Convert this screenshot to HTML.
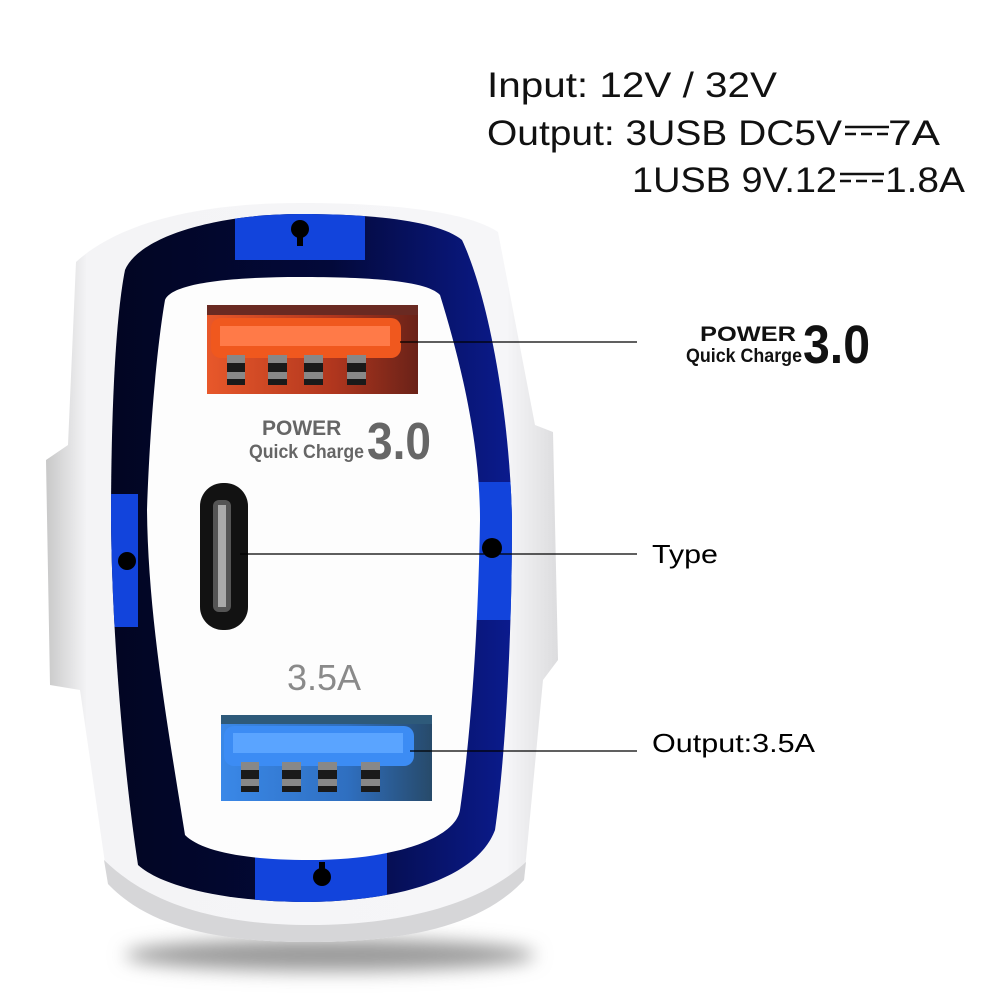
<!DOCTYPE html>
<html><head><meta charset="utf-8"><style>
html,body{margin:0;padding:0;background:#fff;width:1000px;height:1000px;overflow:hidden}
svg{display:block}
</style></head><body>
<svg width="1000" height="1000" viewBox="0 0 1000 1000" xmlns="http://www.w3.org/2000/svg">
<defs>
  <filter id="blur" x="-50%" y="-200%" width="200%" height="500%"><feGaussianBlur stdDeviation="9"/></filter>
  <linearGradient id="ring" x1="0" y1="0" x2="1" y2="0">
    <stop offset="0" stop-color="#020522"/><stop offset="0.55" stop-color="#03093a"/><stop offset="1" stop-color="#0b1b8e"/>
  </linearGradient>
  <linearGradient id="body" x1="0" y1="0" x2="1" y2="0">
    <stop offset="0" stop-color="#c8c8c8"/><stop offset="0.08" stop-color="#f4f4f6"/><stop offset="0.9" stop-color="#f6f6f8"/><stop offset="1" stop-color="#dcdcde"/>
  </linearGradient>
  <linearGradient id="obg" x1="0" y1="0" x2="1" y2="0">
    <stop offset="0" stop-color="#e8582a"/><stop offset="0.6" stop-color="#b0361e"/><stop offset="1" stop-color="#6a2218"/>
  </linearGradient>
  <linearGradient id="bbg" x1="0" y1="0" x2="1" y2="0">
    <stop offset="0" stop-color="#3a88e8"/><stop offset="0.6" stop-color="#2f6fc0"/><stop offset="1" stop-color="#274a6a"/>
  </linearGradient>
  <clipPath id="ringclip">
    <path d="M300,214 C380,214 440,222 462,240 C490,300 510,420 512,520 C512,640 505,760 495,830 C480,870 420,900 310,902 C220,902 160,885 138,865 C125,780 112,640 111,520 C111,420 115,320 125,270 C140,235 220,214 300,214Z"/>
  </clipPath>
</defs>

<ellipse cx="330" cy="955" rx="205" ry="16" fill="#9a9a9a" filter="url(#blur)"/>

<path d="M300,203 C400,203 470,213 498,232 L535,425 L553,432 L558,660 L543,680 L524,880 C480,928 400,942 310,942 C220,942 150,928 108,884 L80,690 L50,685 L46,460 L68,445 L76,262 C120,222 200,203 300,203 Z" fill="url(#body)"/>
<path d="M310,942 C220,942 150,928 108,884 L104,860 C150,905 220,925 310,925 C400,925 480,905 526,862 L524,880 C480,928 400,942 310,942 Z" fill="#d6d6d8"/>

<path d="M300,214 C380,214 440,222 462,240 C490,300 510,420 512,520 C512,640 505,760 495,830 C480,870 420,900 310,902 C220,902 160,885 138,865 C125,780 112,640 111,520 C111,420 115,320 125,270 C140,235 220,214 300,214Z" fill="url(#ring)"/>
<g clip-path="url(#ringclip)" fill="#1244dc">
  <rect x="235" y="205" width="130" height="55"/>
  <rect x="255" y="850" width="132" height="60"/>
  <rect x="105" y="494" width="33" height="133"/>
  <rect x="474" y="482" width="45" height="138"/>
</g>
<path d="M300,277 C380,277 428,282 440,295 C460,360 480,440 480,520 C478,640 470,740 460,810 C455,840 390,860 310,860 C240,860 200,850 185,835 C170,740 148,620 147,510 C150,420 158,340 165,300 C172,283 230,277 300,277Z" fill="#fdfdfd"/>

<circle cx="300" cy="229" r="9" fill="#000"/><rect x="297" y="232" width="6" height="14" fill="#000"/>
<circle cx="127" cy="561" r="9" fill="#000"/>
<circle cx="492" cy="548" r="10" fill="#000"/>
<circle cx="322" cy="877" r="9" fill="#000"/><rect x="319" y="862" width="6" height="12" fill="#000"/>

<rect x="207" y="305" width="211" height="89" fill="url(#obg)"/>
<rect x="207" y="305" width="211" height="10" fill="#6a2a22"/>
<rect x="211" y="318" width="190" height="40" rx="10" fill="#f0581e"/>
<rect x="220" y="326" width="170" height="20" fill="#ff7a48"/>
<g fill="#1a1a1a">
  <rect x="227" y="355" width="18" height="30"/><rect x="268" y="355" width="19" height="30"/><rect x="304" y="355" width="19" height="30"/><rect x="347" y="355" width="19" height="30"/>
</g>
<g fill="#888">
  <rect x="227" y="355" width="18" height="8"/><rect x="268" y="355" width="19" height="8"/><rect x="304" y="355" width="19" height="8"/><rect x="347" y="355" width="19" height="8"/>
  <rect x="227" y="372" width="18" height="7"/><rect x="268" y="372" width="19" height="7"/><rect x="304" y="372" width="19" height="7"/><rect x="347" y="372" width="19" height="7"/>
</g>

<rect x="221" y="715" width="211" height="86" fill="url(#bbg)"/>
<rect x="221" y="715" width="211" height="9" fill="#2e5a7a"/>
<rect x="224" y="726" width="190" height="40" rx="10" fill="#3c8cf4"/>
<rect x="233" y="733" width="170" height="20" fill="#5aa4ff"/>
<g fill="#1a1a1a">
  <rect x="241" y="762" width="18" height="30"/><rect x="282" y="762" width="19" height="30"/><rect x="318" y="762" width="19" height="30"/><rect x="361" y="762" width="19" height="30"/>
</g>
<g fill="#888">
  <rect x="241" y="762" width="18" height="8"/><rect x="282" y="762" width="19" height="8"/><rect x="318" y="762" width="19" height="8"/><rect x="361" y="762" width="19" height="8"/>
  <rect x="241" y="779" width="18" height="7"/><rect x="282" y="779" width="19" height="7"/><rect x="318" y="779" width="19" height="7"/><rect x="361" y="779" width="19" height="7"/>
</g>

<rect x="200" y="483" width="48" height="147" rx="23" fill="#121212"/>
<rect x="213" y="500" width="18" height="112" rx="6" fill="#555"/>
<rect x="218" y="505" width="8" height="102" fill="#aaa"/>

<g font-family="Liberation Sans, sans-serif" font-weight="bold" fill="#666">
  <text x="262" y="435" font-size="21">POWER</text>
  <text x="249" y="458" font-size="19" textLength="115" lengthAdjust="spacingAndGlyphs">Quick Charge</text>
  <text x="367" y="459" font-size="52" textLength="64" lengthAdjust="spacingAndGlyphs">3.0</text>
</g>
<text x="287" y="690" font-family="Liberation Sans, sans-serif" font-size="36" fill="#8a8a8a">3.5A</text>

<g stroke="#000" stroke-width="1.2">
  <line x1="400" y1="342" x2="637" y2="342"/>
  <line x1="240" y1="554" x2="637" y2="554"/>
  <line x1="410" y1="751" x2="637" y2="751"/>
</g>

<g font-family="Liberation Sans, sans-serif" font-weight="bold" fill="#111">
  <text x="700" y="341" font-size="21" textLength="96" lengthAdjust="spacingAndGlyphs">POWER</text>
  <text x="686" y="362" font-size="19" textLength="116" lengthAdjust="spacingAndGlyphs">Quick Charge</text>
  <text x="803" y="363" font-size="54" textLength="67" lengthAdjust="spacingAndGlyphs">3.0</text>
</g>
<g font-family="Liberation Sans, sans-serif" font-size="26" fill="#000">
  <text x="652" y="563" textLength="66" lengthAdjust="spacingAndGlyphs">Type</text>
  <text x="652" y="752" textLength="163" lengthAdjust="spacingAndGlyphs">Output:3.5A</text>
</g>

<g font-family="Liberation Sans, sans-serif" font-size="35" fill="#111">
  <text x="487" y="97" textLength="290" lengthAdjust="spacingAndGlyphs">Input: 12V / 32V</text>
  <text x="487" y="145" textLength="355" lengthAdjust="spacingAndGlyphs">Output: 3USB DC5V</text>
  <text x="888" y="145" textLength="52" lengthAdjust="spacingAndGlyphs">7A</text>
  <text x="632" y="192" textLength="205" lengthAdjust="spacingAndGlyphs">1USB 9V.12</text>
  <text x="885" y="192" textLength="80" lengthAdjust="spacingAndGlyphs">1.8A</text>
</g>
<g stroke="#111" stroke-width="2.5">
  <line x1="845" y1="127" x2="889" y2="127"/>
  <line x1="845" y1="134" x2="889" y2="134" stroke-dasharray="11,5"/>
  <line x1="840" y1="174" x2="884" y2="174"/>
  <line x1="840" y1="181" x2="884" y2="181" stroke-dasharray="11,5"/>
</g>
</svg>
</body></html>
